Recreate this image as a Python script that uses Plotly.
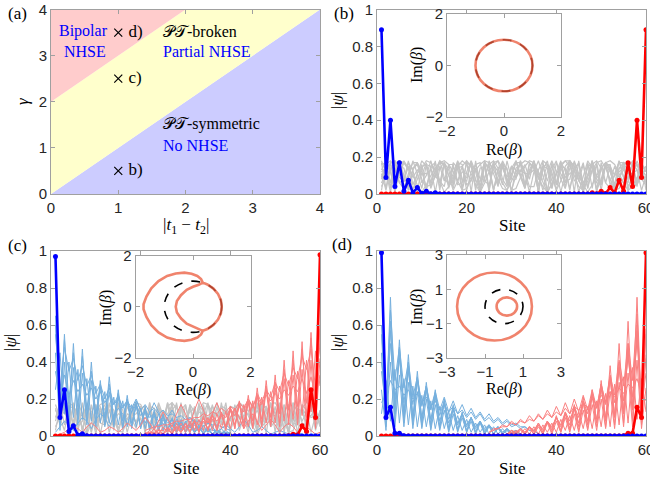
import plotly.graph_objects as go

# ---------------- data ----------------
N_SITES = 60
sites = list(range(1, N_SITES + 1))

# panel (a) phase diagram boundaries
pt_boundary_x = [0, 4]
pt_boundary_y = [0, 4]
bipolar_boundary_x = [0, 2]
bipolar_boundary_y = [2, 4]
axis_max = 4
param_x = [1, 1, 1]
param_y = [0.5, 2.5, 3.5]
param_labels = ["b)", "c)", "d)"]

# edge states: left-localized (blue) listed from site 1, right-localized (red) listed from site 60 down
b_blue_head = [0.89, 0.09, 0.40, 0.04, 0.17, 0.015, 0.075, 0.006, 0.035, 0.003, 0.015, 0.001, 0.007]
b_red_tail = [0.89, 0.09, 0.40, 0.04, 0.17, 0.015, 0.075, 0.006, 0.035, 0.003, 0.015, 0.001, 0.007]
c_blue_head = [0.97, 0.10, 0.25, 0.025, 0.055, 0.005, 0.012, 0.001]
c_red_tail = [0.98, 0.10, 0.25, 0.025, 0.055, 0.005, 0.010, 0.001]
d_blue_head = [0.99, 0.10, 0.155, 0.015, 0.015, 0.002]
d_red_tail = [0.99, 0.10, 0.155, 0.015, 0.015, 0.002]

# panel (b) bulk states (grey), sites 1..60
gb1 = [0.17,0.03,0.17,0.05,0.16,0.07,0.15,0.09,0.13,0.11,0.11,0.13,0.09,0.15,0.07,0.16,0.05,0.17,0.03,0.18,0.01,0.18,0.01,0.17,0.03,0.17,0.05,0.16,0.07,0.15,0.09,0.13,0.11,0.11,0.13,0.09,0.15,0.07,0.16,0.05,0.17,0.03,0.18,0.01,0.18,0.01,0.17,0.03,0.17,0.05,0.16,0.07,0.15,0.09,0.13,0.11,0.11,0.13,0.09,0.15]
gb2 = [0.08,0.16,0.12,0.02,0.15,0.14,0.03,0.13,0.17,0.06,0.10,0.18,0.10,0.06,0.17,0.13,0.03,0.14,0.15,0.02,0.12,0.16,0.08,0.08,0.18,0.11,0.04,0.16,0.14,0.01,0.14,0.16,0.04,0.11,0.18,0.08,0.08,0.16,0.12,0.02,0.15,0.14,0.03,0.13,0.17,0.06,0.10,0.18,0.10,0.06,0.17,0.13,0.03,0.14,0.15,0.02,0.12,0.16,0.08,0.05]
gb3 = [0.04,0.09,0.13,0.16,0.18,0.17,0.14,0.10,0.05,0.01,0.05,0.10,0.14,0.17,0.18,0.16,0.12,0.07,0.02,0.03,0.08,0.13,0.16,0.18,0.17,0.13,0.08,0.03,0.02,0.07,0.12,0.16,0.18,0.17,0.14,0.09,0.04,0.01,0.06,0.11,0.15,0.18,0.18,0.15,0.10,0.05,0.01,0.05,0.10,0.14,0.17,0.18,0.16,0.11,0.06,0.02,0.04,0.09,0.13,0.15]
gb4 = [0.12,0.14,0.03,0.17,0.09,0.07,0.18,0.05,0.11,0.16,0.01,0.15,0.13,0.04,0.17,0.10,0.06,0.18,0.07,0.09,0.17,0.02,0.14,0.15,0.02,0.16,0.12,0.05,0.18,0.08,0.08,0.18,0.05,0.12,0.16,0.01,0.15,0.14,0.03,0.17,0.11,0.06,0.18,0.07,0.10,0.17,0.03,0.13,0.15,0.02,0.16,0.12,0.05,0.18,0.09,0.08,0.17,0.05,0.11,0.13]
gb5 = [0.13,0.18,0.13,0.01,0.12,0.18,0.14,0.02,0.11,0.18,0.15,0.03,0.10,0.17,0.16,0.04,0.08,0.17,0.16,0.05,0.07,0.16,0.17,0.07,0.05,0.15,0.18,0.08,0.04,0.14,0.18,0.09,0.03,0.13,0.18,0.11,0.02,0.12,0.18,0.12,0.01,0.11,0.18,0.13,0.01,0.09,0.18,0.14,0.02,0.08,0.17,0.15,0.03,0.07,0.17,0.16,0.04,0.06,0.16,0.12]
gb6 = [0.09,0.16,0.18,0.14,0.06,0.03,0.11,0.17,0.17,0.12,0.04,0.05,0.13,0.18,0.16,0.10,0.02,0.07,0.15,0.18,0.15,0.08,0.01,0.09,0.16,0.18,0.14,0.06,0.02,0.11,0.17,0.17,0.12,0.04,0.04,0.13,0.18,0.16,0.10,0.02,0.07,0.15,0.18,0.15,0.08,0.01,0.09,0.16,0.18,0.14,0.06,0.03,0.11,0.17,0.17,0.12,0.04,0.05,0.13,0.10]
gb7 = [0.02,0.16,0.06,0.18,0.10,0.17,0.13,0.14,0.16,0.10,0.17,0.06,0.18,0.02,0.17,0.03,0.15,0.07,0.12,0.11,0.08,0.14,0.04,0.17,0.01,0.18,0.05,0.17,0.09,0.15,0.13,0.12,0.16,0.08,0.18,0.04,0.18,0.01,0.17,0.05,0.14,0.09,0.11,0.13,0.07,0.16,0.03,0.18,0.02,0.17,0.06,0.15,0.10,0.12,0.14,0.08,0.17,0.04,0.18,0.02]
gb8 = [0.16,0.17,0.04,0.12,0.18,0.07,0.09,0.18,0.11,0.03,0.16,0.15,0.01,0.14,0.17,0.05,0.11,0.18,0.08,0.07,0.18,0.12,0.02,0.15,0.16,0.02,0.13,0.17,0.06,0.09,0.18,0.10,0.05,0.17,0.14,0.01,0.15,0.16,0.03,0.12,0.18,0.07,0.08,0.18,0.11,0.04,0.16,0.15,0.01,0.14,0.17,0.05,0.10,0.18,0.09,0.06,0.17,0.13,0.02,0.10]
gb9 = [0.11,0.02,0.14,0.18,0.06,0.08,0.17,0.13,0.01,0.15,0.16,0.04,0.10,0.18,0.09,0.05,0.17,0.14,0.02,0.12,0.18,0.07,0.07,0.18,0.12,0.02,0.14,0.17,0.05,0.09,0.18,0.10,0.03,0.16,0.15,0.01,0.13,0.18,0.07,0.06,0.17,0.13,0.02,0.15,0.16,0.03,0.11,0.18,0.08,0.05,0.17,0.14,0.01,0.14,0.17,0.04,0.09,0.18,0.11,0.06]
gb10 = [0.18,0.12,0.01,0.13,0.18,0.10,0.02,0.14,0.17,0.08,0.03,0.15,0.17,0.07,0.04,0.16,0.16,0.05,0.06,0.17,0.15,0.04,0.07,0.17,0.14,0.03,0.09,0.18,0.13,0.02,0.10,0.18,0.11,0.01,0.12,0.18,0.10,0.02,0.13,0.18,0.08,0.03,0.14,0.17,0.07,0.04,0.15,0.16,0.06,0.05,0.16,0.16,0.04,0.07,0.17,0.15,0.03,0.08,0.17,0.12]
gb11 = [0.06,0.12,0.17,0.18,0.15,0.09,0.03,0.02,0.08,0.14,0.18,0.17,0.13,0.07,0.01,0.04,0.10,0.15,0.18,0.16,0.11,0.05,0.01,0.06,0.12,0.17,0.18,0.14,0.08,0.02,0.03,0.09,0.15,0.18,0.17,0.12,0.06,0.01,0.05,0.11,0.16,0.18,0.15,0.10,0.04,0.02,0.07,0.13,0.17,0.18,0.14,0.08,0.02,0.03,0.09,0.14,0.18,0.16,0.12,0.07]
grey_b = [gb1, gb2, gb3, gb4, gb5, gb6, gb7, gb8, gb9, gb10, gb11]

# panel (c) bulk states (grey), sites 1..60
gc1 = [0.15,0.06,0.17,0.04,0.18,0.02,0.18,0.01,0.17,0.03,0.16,0.06,0.14,0.08,0.12,0.11,0.09,0.13,0.07,0.15,0.05,0.16,0.03,0.17,0.02,0.18,0.01,0.18,0.02,0.17,0.04,0.16,0.06,0.15,0.09,0.13,0.11,0.11,0.13,0.09,0.15,0.06,0.16,0.04,0.17,0.03,0.18,0.01,0.18,0.02,0.17,0.03,0.16,0.05,0.15,0.08,0.13,0.10,0.11,0.12]
gc2 = [0.10,0.17,0.15,0.04,0.08,0.18,0.12,0.02,0.13,0.17,0.07,0.06,0.17,0.14,0.02,0.11,0.18,0.09,0.04,0.15,0.16,0.03,0.09,0.18,0.11,0.01,0.14,0.17,0.06,0.07,0.17,0.13,0.02,0.12,0.18,0.08,0.05,0.16,0.15,0.03,0.10,0.18,0.10,0.02,0.15,0.16,0.05,0.08,0.18,0.12,0.01,0.13,0.17,0.07,0.06,0.17,0.14,0.02,0.11,0.09]
gc3 = [0.05,0.11,0.16,0.18,0.16,0.11,0.05,0.01,0.07,0.13,0.17,0.18,0.14,0.09,0.03,0.02,0.09,0.15,0.18,0.17,0.12,0.06,0.01,0.05,0.11,0.16,0.18,0.15,0.10,0.04,0.02,0.08,0.14,0.18,0.17,0.13,0.07,0.01,0.04,0.10,0.15,0.18,0.16,0.11,0.05,0.01,0.06,0.12,0.17,0.18,0.14,0.08,0.02,0.03,0.09,0.15,0.18,0.17,0.12,0.06]
gc4 = [0.14,0.09,0.18,0.04,0.16,0.12,0.11,0.17,0.02,0.17,0.08,0.15,0.14,0.06,0.18,0.03,0.16,0.11,0.12,0.16,0.01,0.18,0.07,0.15,0.13,0.08,0.18,0.02,0.17,0.10,0.13,0.15,0.03,0.17,0.06,0.16,0.12,0.09,0.18,0.01,0.17,0.09,0.14,0.14,0.04,0.18,0.05,0.16,0.11,0.11,0.17,0.02,0.17,0.08,0.15,0.13,0.07,0.18,0.03,0.12]
gc5 = [0.03,0.15,0.12,0.17,0.06,0.18,0.02,0.16,0.09,0.13,0.15,0.08,0.18,0.03,0.17,0.05,0.12,0.11,0.07,0.16,0.02,0.18,0.04,0.15,0.10,0.12,0.16,0.06,0.18,0.02,0.16,0.07,0.13,0.12,0.08,0.17,0.03,0.18,0.05,0.14,0.11,0.10,0.16,0.05,0.18,0.03,0.17,0.08,0.12,0.13,0.06,0.17,0.02,0.18,0.06,0.15,0.11,0.11,0.15,0.07]
gc6 = [0.17,0.10,0.03,0.15,0.16,0.05,0.08,0.18,0.12,0.01,0.13,0.17,0.07,0.06,0.17,0.14,0.02,0.11,0.18,0.09,0.04,0.16,0.15,0.03,0.09,0.18,0.11,0.01,0.14,0.17,0.06,0.07,0.17,0.13,0.02,0.12,0.18,0.08,0.05,0.16,0.15,0.03,0.10,0.18,0.10,0.02,0.15,0.16,0.05,0.08,0.18,0.12,0.01,0.13,0.17,0.07,0.06,0.17,0.14,0.05]
gc7 = [0.08,0.18,0.06,0.17,0.04,0.16,0.03,0.15,0.02,0.14,0.01,0.13,0.02,0.12,0.04,0.11,0.06,0.10,0.08,0.09,0.10,0.07,0.12,0.05,0.14,0.04,0.15,0.03,0.16,0.02,0.17,0.01,0.18,0.02,0.17,0.04,0.16,0.06,0.15,0.08,0.13,0.10,0.11,0.12,0.09,0.14,0.07,0.15,0.05,0.16,0.03,0.17,0.02,0.18,0.01,0.17,0.03,0.16,0.05,0.14]
grey_c = [gc1, gc2, gc3, gc4, gc5, gc6, gc7]

# light-blue skin modes in (c), sites 1..40
cb1 = [0.65,0.08,0.55,0.10,0.50,0.09,0.47,0.08,0.40,0.07,0.30,0.06,0.32,0.06,0.25,0.05,0.22,0.05,0.18,0.04,0.15,0.04,0.13,0.03,0.11,0.03,0.09,0.02,0.08,0.02,0.06,0.02,0.05,0.01,0.04,0.01,0.03,0.01,0.02,0.01]
cb2 = [0.55,0.25,0.48,0.35,0.42,0.30,0.38,0.27,0.33,0.23,0.28,0.20,0.26,0.17,0.22,0.15,0.19,0.13,0.17,0.11,0.14,0.10,0.12,0.08,0.10,0.07,0.09,0.06,0.07,0.05,0.06,0.04,0.05,0.03,0.04,0.03,0.03,0.02,0.02,0.01]
cb3 = [0.45,0.03,0.40,0.05,0.37,0.06,0.34,0.06,0.30,0.05,0.27,0.05,0.24,0.05,0.21,0.04,0.19,0.04,0.17,0.04,0.16,0.03,0.14,0.03,0.12,0.03,0.10,0.02,0.09,0.02,0.08,0.02,0.06,0.01,0.05,0.01,0.04,0.01,0.03,0.01]
cb4 = [0.35,0.20,0.33,0.22,0.30,0.24,0.28,0.22,0.26,0.20,0.24,0.18,0.22,0.17,0.20,0.16,0.19,0.15,0.20,0.14,0.17,0.13,0.15,0.12,0.14,0.11,0.12,0.10,0.11,0.09,0.10,0.08,0.08,0.07,0.07,0.06,0.06,0.05,0.04,0.03]
cb5 = [0.25,0.45,0.12,0.40,0.10,0.36,0.09,0.31,0.08,0.27,0.07,0.24,0.07,0.21,0.06,0.19,0.05,0.17,0.05,0.15,0.04,0.13,0.04,0.12,0.03,0.10,0.03,0.09,0.03,0.08,0.02,0.07,0.02,0.06,0.02,0.05,0.01,0.04,0.01,0.02]
cb6 = [0.60,0.15,0.52,0.18,0.45,0.16,0.43,0.14,0.35,0.12,0.27,0.10,0.28,0.09,0.23,0.08,0.20,0.07,0.16,0.06,0.13,0.05,0.11,0.05,0.09,0.04,0.07,0.03,0.06,0.03,0.05,0.02,0.04,0.02,0.03,0.01,0.02,0.01,0.01,0.00]
light_blue_c = [cb1, cb2, cb3, cb4, cb5, cb6]
cbx = [0.02,0.05,0.08,0.06,0.03,0.07,0.10,0.08,0.04,0.09,0.12,0.10,0.05,0.11,0.15,0.12,0.06,0.13,0.19,0.14,0.07,0.12,0.18,0.13,0.06,0.10,0.14,0.10,0.04,0.07,0.10,0.07,0.03,0.05,0.07,0.05,0.02,0.04,0.06,0.04,0.02,0.05,0.09,0.06,0.02,0.03,0.05,0.03,0.01,0.02,0.03,0.02,0.01,0.01,0.02,0.01,0.00,0.01,0.01,0.00]
# light-red skin modes in (c), listed from site 60 downwards
cr1 = [0.60,0.08,0.56,0.10,0.51,0.09,0.46,0.08,0.41,0.07,0.33,0.06,0.30,0.06,0.26,0.05,0.22,0.05,0.19,0.04,0.16,0.04,0.13,0.03,0.11,0.03,0.10,0.02,0.08,0.02,0.07,0.02,0.05,0.01,0.04,0.01,0.03,0.01,0.02,0.01]
cr2 = [0.50,0.26,0.47,0.36,0.43,0.31,0.37,0.27,0.34,0.24,0.29,0.21,0.25,0.18,0.23,0.15,0.20,0.13,0.16,0.11,0.15,0.10,0.12,0.08,0.11,0.07,0.09,0.06,0.08,0.05,0.06,0.04,0.05,0.03,0.04,0.03,0.03,0.02,0.02,0.01]
cr3 = [0.42,0.04,0.41,0.05,0.36,0.06,0.33,0.06,0.31,0.05,0.26,0.05,0.25,0.05,0.22,0.04,0.18,0.04,0.18,0.04,0.15,0.03,0.13,0.03,0.12,0.03,0.11,0.02,0.09,0.02,0.07,0.02,0.07,0.01,0.05,0.01,0.04,0.01,0.03,0.01]
cr4 = [0.33,0.21,0.32,0.23,0.31,0.24,0.27,0.22,0.25,0.20,0.23,0.19,0.22,0.17,0.21,0.16,0.20,0.15,0.18,0.14,0.16,0.13,0.15,0.12,0.13,0.11,0.12,0.10,0.10,0.09,0.09,0.08,0.08,0.07,0.06,0.06,0.05,0.05,0.04,0.03]
cr5 = [0.27,0.46,0.13,0.41,0.11,0.35,0.09,0.30,0.08,0.27,0.07,0.24,0.07,0.21,0.06,0.19,0.05,0.17,0.05,0.15,0.04,0.13,0.04,0.12,0.03,0.10,0.03,0.09,0.03,0.08,0.02,0.07,0.02,0.06,0.02,0.05,0.01,0.04,0.01,0.02]
cr6 = [0.58,0.16,0.53,0.18,0.47,0.16,0.41,0.14,0.36,0.12,0.29,0.10,0.27,0.09,0.22,0.08,0.19,0.07,0.17,0.06,0.14,0.05,0.11,0.05,0.09,0.04,0.08,0.03,0.06,0.03,0.05,0.02,0.04,0.02,0.03,0.01,0.02,0.01,0.01,0.00]
light_red_c = [cr1, cr2, cr3, cr4, cr5, cr6]
crx = [0.00,0.01,0.02,0.04,0.05,0.04,0.02,0.05,0.07,0.05,0.02,0.03,0.05,0.04,0.02,0.04,0.07,0.05,0.03,0.06,0.10,0.07,0.03,0.08,0.13,0.09,0.05,0.12,0.17,0.12,0.06,0.14,0.20,0.14,0.07,0.12,0.18,0.12,0.05,0.10,0.15,0.10,0.04,0.08,0.12,0.08,0.03,0.06,0.09,0.06,0.02,0.05,0.07,0.05,0.02,0.04,0.05,0.03,0.01,0.02]

# light-blue skin modes in (d), from site 1
db1 = [0.55,0.10,0.75,0.12,0.52,0.10,0.44,0.08,0.35,0.07,0.29,0.06,0.25,0.05,0.20,0.04,0.17,0.03,0.13,0.03,0.10,0.02,0.08,0.02,0.06,0.01,0.05,0.01,0.03,0.01,0.02,0.01]
db2 = [0.45,0.05,0.62,0.08,0.47,0.07,0.38,0.06,0.31,0.05,0.26,0.04,0.22,0.04,0.18,0.03,0.15,0.03,0.12,0.02,0.10,0.02,0.08,0.01,0.06,0.01,0.05,0.01,0.04,0.01,0.03,0.01]
db3 = [0.35,0.15,0.50,0.20,0.42,0.18,0.36,0.17,0.31,0.16,0.27,0.15,0.24,0.14,0.21,0.13,0.19,0.12,0.17,0.11,0.15,0.10,0.13,0.09,0.12,0.08,0.10,0.07,0.09,0.06,0.07,0.05,0.05,0.03,0.03,0.01]
db4 = [0.25,0.03,0.40,0.05,0.33,0.05,0.29,0.04,0.24,0.04,0.20,0.03,0.17,0.03,0.14,0.02,0.12,0.02,0.10,0.02,0.08,0.01,0.07,0.01,0.05,0.01,0.04,0.01,0.03,0.01,0.02,0.01]
db5 = [0.18,0.22,0.30,0.25,0.27,0.22,0.25,0.20,0.23,0.18,0.21,0.16,0.19,0.14,0.17,0.13,0.16,0.12,0.14,0.10,0.13,0.09,0.12,0.08,0.10,0.07,0.09,0.06,0.08,0.05,0.06,0.04,0.05,0.03,0.03,0.01]
db6 = [0.12,0.30,0.08,0.36,0.07,0.31,0.06,0.27,0.05,0.22,0.05,0.19,0.04,0.16,0.04,0.13,0.03,0.11,0.03,0.09,0.02,0.07,0.02,0.06,0.01,0.05,0.01,0.04,0.01,0.03,0.01,0.01]
db7 = [0.60,0.12,0.68,0.30,0.48,0.26,0.40,0.21,0.32,0.17,0.27,0.14,0.23,0.11,0.19,0.09,0.15,0.07,0.12,0.06,0.10,0.05,0.08,0.04,0.06,0.03,0.05,0.02,0.04,0.02,0.03,0.01]
db8 = [0.40,0.18,0.57,0.14,0.45,0.12,0.36,0.11,0.30,0.10,0.25,0.09,0.21,0.08,0.17,0.07,0.14,0.06,0.12,0.05,0.10,0.04,0.08,0.03,0.06,0.03,0.05,0.02,0.04,0.02,0.03,0.01]
light_blue_d = [db1, db2, db3, db4, db5, db6, db7, db8]
# light-red skin modes in (d), listed from site 60 downwards
dr1 = [0.55,0.12,0.75,0.14,0.62,0.12,0.50,0.10,0.38,0.08,0.30,0.07,0.25,0.06,0.21,0.05,0.17,0.04,0.13,0.03,0.11,0.03,0.08,0.02,0.07,0.02,0.05,0.01,0.04,0.01,0.02,0.01]
dr2 = [0.44,0.06,0.60,0.08,0.50,0.07,0.40,0.06,0.32,0.05,0.27,0.05,0.22,0.04,0.18,0.03,0.15,0.03,0.12,0.02,0.10,0.02,0.08,0.01,0.06,0.01,0.05,0.01,0.04,0.01,0.03,0.01]
dr3 = [0.34,0.16,0.52,0.21,0.43,0.19,0.37,0.18,0.32,0.17,0.28,0.15,0.25,0.14,0.22,0.13,0.20,0.12,0.18,0.11,0.16,0.10,0.14,0.09,0.12,0.08,0.11,0.07,0.09,0.06,0.08,0.05,0.06,0.04,0.04,0.02]
dr4 = [0.26,0.04,0.41,0.05,0.34,0.05,0.29,0.04,0.24,0.04,0.20,0.03,0.17,0.03,0.14,0.02,0.12,0.02,0.10,0.02,0.08,0.01,0.07,0.01,0.05,0.01,0.04,0.01,0.03,0.01,0.02,0.01]
dr5 = [0.19,0.23,0.31,0.26,0.28,0.23,0.26,0.21,0.24,0.19,0.22,0.17,0.20,0.15,0.18,0.14,0.16,0.12,0.15,0.11,0.13,0.10,0.12,0.09,0.11,0.08,0.09,0.07,0.08,0.06,0.07,0.05,0.05,0.04,0.03,0.02]
dr6 = [0.13,0.31,0.09,0.37,0.07,0.32,0.06,0.28,0.05,0.23,0.05,0.19,0.04,0.16,0.04,0.13,0.03,0.11,0.03,0.09,0.02,0.07,0.02,0.06,0.01,0.05,0.01,0.04,0.01,0.03,0.01,0.01]
dr7 = [0.58,0.13,0.66,0.30,0.50,0.27,0.41,0.22,0.33,0.18,0.28,0.15,0.23,0.12,0.19,0.10,0.16,0.08,0.13,0.06,0.10,0.05,0.08,0.04,0.06,0.03,0.05,0.02,0.04,0.02,0.03,0.01]
dr8 = [0.42,0.19,0.57,0.15,0.47,0.13,0.37,0.11,0.31,0.10,0.26,0.09,0.22,0.08,0.18,0.07,0.15,0.06,0.12,0.05,0.10,0.04,0.08,0.03,0.07,0.03,0.05,0.02,0.04,0.02,0.03,0.01]
light_red_d = [dr1, dr2, dr3, dr4, dr5, dr6, dr7, dr8]

# insets: generalized Brillouin zones (beta plane)
unit_circle_radius = 1.0
gbz_b_radius = 1.0
gbz_c_x = [0.34, 0.28, 0.15, -0.05, -0.3, -0.6, -0.9, -1.2, -1.45, -1.62, -1.72, -1.72, -1.62, -1.45, -1.2, -0.9, -0.6, -0.3, -0.05, 0.15, 0.28, 0.34,
           0.5, 0.71, 0.87, 0.97, 1.0, 0.97, 0.87, 0.71, 0.5, 0.34,
           0.2, 0.0, -0.22, -0.42, -0.56, -0.6, -0.56, -0.42, -0.22, 0.0, 0.2, 0.34]
gbz_c_y = [0.94, 1.08, 1.2, 1.29, 1.33, 1.3, 1.2, 1.0, 0.72, 0.4, 0.1, -0.1, -0.4, -0.72, -1.0, -1.2, -1.3, -1.33, -1.29, -1.2, -1.08, -0.94,
           -0.87, -0.71, -0.5, -0.26, 0.0, 0.26, 0.5, 0.71, 0.87, 0.94,
           0.86, 0.78, 0.66, 0.45, 0.22, 0.0, -0.22, -0.45, -0.66, -0.78, -0.86, -0.94]
gbz_d_cx = [-0.5, 0.15]
gbz_d_rx = [1.97, 0.54]
gbz_d_ry = [1.98, 0.53]

main_ticks_x = [0, 20, 40, 60]
main_ticks_y = [0, 0.2, 0.4, 0.6, 0.8, 1]
phase_ticks = [0, 1, 2, 3, 4]
inset_ticks_bc = [-2, 0, 2]
inset_ticks_d = [-3, -1, 1, 3]

def left_state(head):
    return head + [0.0] * (N_SITES - len(head))

def right_state(tail):
    return [0.0] * (N_SITES - len(tail)) + tail[::-1]

# ---------------- styling ----------------
W, H = 650, 485
SERIF = "Liberation Serif, Times New Roman, serif"
SANS = "Liberation Sans, Arial, sans-serif"
AXC = "#a0a0a0"
TICKC = "#262626"
BLUE = "#0000ff"
RED = "#ff0000"
GREY = "#c4c4c4"
LBLUE = "rgb(118,176,222)"
LRED = "rgb(250,128,128)"
ORANGE = "rgb(235,90,60)"

def fx(p):
    return p / W

def fy(p):
    return 1 - p / H

fig = go.Figure()

def ax_style(x0, x1, rng, tickvals, size=15):
    return dict(domain=[fx(x0), fx(x1)], range=rng, tickvals=tickvals, automargin=False,
                showline=True, mirror="ticks", linecolor=AXC, linewidth=1,
                ticks="inside", ticklen=4, tickcolor=AXC, showgrid=False, zeroline=False,
                tickfont=dict(family=SANS, size=size, color=TICKC), layer="above traces",
                ticklabeloverflow="allow", fixedrange=True)

def ay_style(y0, y1, rng, tickvals, size=15):
    return dict(domain=[fy(y1), fy(y0)], range=rng, tickvals=tickvals, automargin=False,
                showline=True, mirror="ticks", linecolor=AXC, linewidth=1,
                ticks="inside", ticklen=4, tickcolor=AXC, showgrid=False, zeroline=False,
                tickfont=dict(family=SANS, size=size, color=TICKC), layer="above traces",
                ticklabeloverflow="allow", fixedrange=True)

layout = dict(
    width=W, height=H, margin=dict(l=0, r=0, t=0, b=0, pad=0, autoexpand=False),
    paper_bgcolor="white", plot_bgcolor="white", showlegend=False,
    xaxis=ax_style(51, 320, [0, 4], phase_ticks),
    yaxis=ay_style(9.5, 194, [0, 4], phase_ticks),
    xaxis2=ax_style(377, 646, [0, 60], main_ticks_x),
    yaxis2=ay_style(9.5, 194, [0, 1], main_ticks_y),
    xaxis3=ax_style(51, 320, [0, 60], main_ticks_x),
    yaxis3=ay_style(251, 436, [0, 1], main_ticks_y),
    xaxis4=ax_style(377, 646, [0, 60], main_ticks_x),
    yaxis4=ay_style(251, 436, [0, 1], main_ticks_y),
    xaxis5=ax_style(447, 561, [-2, 2], inset_ticks_bc),
    yaxis5=ay_style(14, 117, [-2, 2], inset_ticks_bc),
    xaxis6=ax_style(135.5, 250.5, [-2, 2], inset_ticks_bc),
    yaxis6=ay_style(255.5, 358, [-2, 2], inset_ticks_bc),
    xaxis7=ax_style(447, 561, [-3, 3], inset_ticks_d),
    yaxis7=ay_style(255, 358, [-3, 3], inset_ticks_d),
)
for i in range(1, 8):
    s = "" if i == 1 else str(i)
    layout["xaxis" + s]["anchor"] = "y" + s
    layout["yaxis" + s]["anchor"] = "x" + s

# ---------------- panel (a) ----------------
blue_poly_x = pt_boundary_x + [axis_max]
blue_poly_y = pt_boundary_y + [0]
yellow_poly_x = pt_boundary_x + bipolar_boundary_x[::-1]
yellow_poly_y = pt_boundary_y + bipolar_boundary_y[::-1]
red_poly_x = bipolar_boundary_x + [0]
red_poly_y = bipolar_boundary_y + [axis_max]
for px_, py_, col in [(blue_poly_x, blue_poly_y, "rgb(204,204,255)"),
                      (yellow_poly_x, yellow_poly_y, "rgb(255,255,204)"),
                      (red_poly_x, red_poly_y, "rgb(255,204,204)")]:
    fig.add_trace(go.Scatter(x=px_, y=py_, fill="toself", fillcolor=col, mode="lines",
                             line=dict(width=0, color=col), xaxis="x", yaxis="y", hoverinfo="skip"))
fig.add_trace(go.Scatter(x=param_x, y=param_y, mode="markers+text",
                         text=["\u00a0" + t for t in param_labels],
                         textposition="middle right",
                         textfont=dict(family=SERIF, size=17, color="black"),
                         marker=dict(symbol="x-thin", size=8, line=dict(width=1.2, color="black")),
                         xaxis="x", yaxis="y"))

annotations = []
def ann(text, x, y, xref="x", yref="y", size=16, color="black", xanchor="left", angle=0):
    annotations.append(dict(text=text, x=x, y=y, xref=xref, yref=yref, showarrow=False,
                            xanchor=xanchor, yanchor="middle", textangle=angle,
                            font=dict(family=SERIF, size=size, color=color)))

ann("Bipolar", 0.09, 3.53, color=BLUE)
ann("NHSE", 0.16, 3.08, color=BLUE)
ann("\U0001D4AB\U0001D4AF-broken", 1.63, 3.53)
ann("Partial NHSE", 1.63, 3.08, color=BLUE)
ann("\U0001D4AB\U0001D4AF-symmetric", 1.63, 1.52)
ann("No NHSE", 1.63, 1.06, color=BLUE)

# ---------------- main state panels ----------------
def add_lines(arrs, xs, color, xa, ya, width=1):
    for arr in arrs:
        fig.add_trace(go.Scatter(x=xs[:len(arr)], y=arr, mode="lines",
                                 line=dict(color=color, width=width), xaxis=xa, yaxis=ya,
                                 hoverinfo="skip"))

def add_edge(red, blue, xa, ya):
    for arr, col in [(red, RED), (blue, BLUE)]:
        fig.add_trace(go.Scatter(x=sites, y=arr, mode="lines+markers",
                                 line=dict(color=col, width=2.6),
                                 marker=dict(color=col, size=5), xaxis=xa, yaxis=ya))

sites_desc = sites[::-1]

add_lines(grey_b, sites, GREY, "x2", "y2", 1.2)
add_edge(right_state(b_red_tail), left_state(b_blue_head), "x2", "y2")

add_lines(grey_c, sites, GREY, "x3", "y3", 1.2)
add_lines(light_blue_c + [cbx], sites, LBLUE, "x3", "y3")
add_lines(light_red_c, sites_desc, LRED, "x3", "y3")
add_lines([crx], sites, LRED, "x3", "y3")
add_edge(right_state(c_red_tail), left_state(c_blue_head), "x3", "y3")

add_lines(light_blue_d, sites, LBLUE, "x4", "y4")
add_lines(light_red_d, sites_desc, LRED, "x4", "y4")
add_edge(right_state(d_red_tail), left_state(d_blue_head), "x4", "y4")

# ---------------- insets ----------------
shapes = []
for xa, ya in [("x5", "y5"), ("x6", "y6"), ("x7", "y7")]:
    shapes.append(dict(type="circle", xref=xa, yref=ya, layer="below",
                       x0=-unit_circle_radius, x1=unit_circle_radius,
                       y0=-unit_circle_radius, y1=unit_circle_radius,
                       line=dict(color="black", width=1.6, dash="dash")))
shapes.append(dict(type="circle", xref="x5", yref="y5", layer="above", opacity=0.75,
                   x0=-gbz_b_radius, x1=gbz_b_radius, y0=-gbz_b_radius, y1=gbz_b_radius,
                   line=dict(color=ORANGE, width=2.6)))
for cx, rx, ry in zip(gbz_d_cx, gbz_d_rx, gbz_d_ry):
    shapes.append(dict(type="circle", xref="x7", yref="y7", layer="above", opacity=0.75,
                       x0=cx - rx, x1=cx + rx, y0=-ry, y1=ry,
                       line=dict(color=ORANGE, width=2.6)))
fig.add_trace(go.Scatter(x=[0], y=[0], mode="markers", marker=dict(opacity=0, size=1),
                         xaxis="x5", yaxis="y5", hoverinfo="skip"))
fig.add_trace(go.Scatter(x=gbz_c_x, y=gbz_c_y, mode="lines", opacity=0.75,
                         line=dict(color=ORANGE, width=2.6), xaxis="x6", yaxis="y6"))
fig.add_trace(go.Scatter(x=[0], y=[0], mode="markers", marker=dict(opacity=0, size=1),
                         xaxis="x7", yaxis="y7", hoverinfo="skip"))

# ---------------- axis titles & panel labels ----------------
P = dict(xref="paper", yref="paper", xanchor="center")
ann("(a)", fx(17), fy(13), size=17, **P)
ann("(b)", fx(344), fy(13), size=17, **P)
ann("(c)", fx(17), fy(245), size=17, **P)
ann("(d)", fx(342), fy(244), size=17, **P)

ann("|<i>t</i><sub>1</sub> − <i>t</i><sub>2</sub>|", fx(185.5), fy(226), size=17, **P)
ann("<i>γ</i>", fx(22), fy(101), size=17, angle=-90, **P)
ann("Site", fx(511.5), fy(225), size=17, **P)
ann("Site", fx(185.5), fy(468), size=17, **P)
ann("Site", fx(511.5), fy(468), size=17, **P)
for x_, y_ in [(337, 101), (10, 343), (337, 343)]:
    ann("|<i>ψ</i>|", fx(x_), fy(y_), size=17, angle=-90, **P)
for x_, y_ in [(417, 65), (106, 308), (417, 307)]:
    ann("Im(<i>β</i>)", fx(x_), fy(y_), size=16, angle=-90, **P)
for x_, y_ in [(504, 150), (193, 390), (504, 389)]:
    ann("Re(<i>β</i>)", fx(x_), fy(y_), size=16, **P)

layout["annotations"] = annotations
layout["shapes"] = shapes
fig.update_layout(**layout)
fig.write_html("out.html", config={"displayModeBar": False},
               post_script="document.body.style.margin='0px';document.body.style.overflow='hidden';")
